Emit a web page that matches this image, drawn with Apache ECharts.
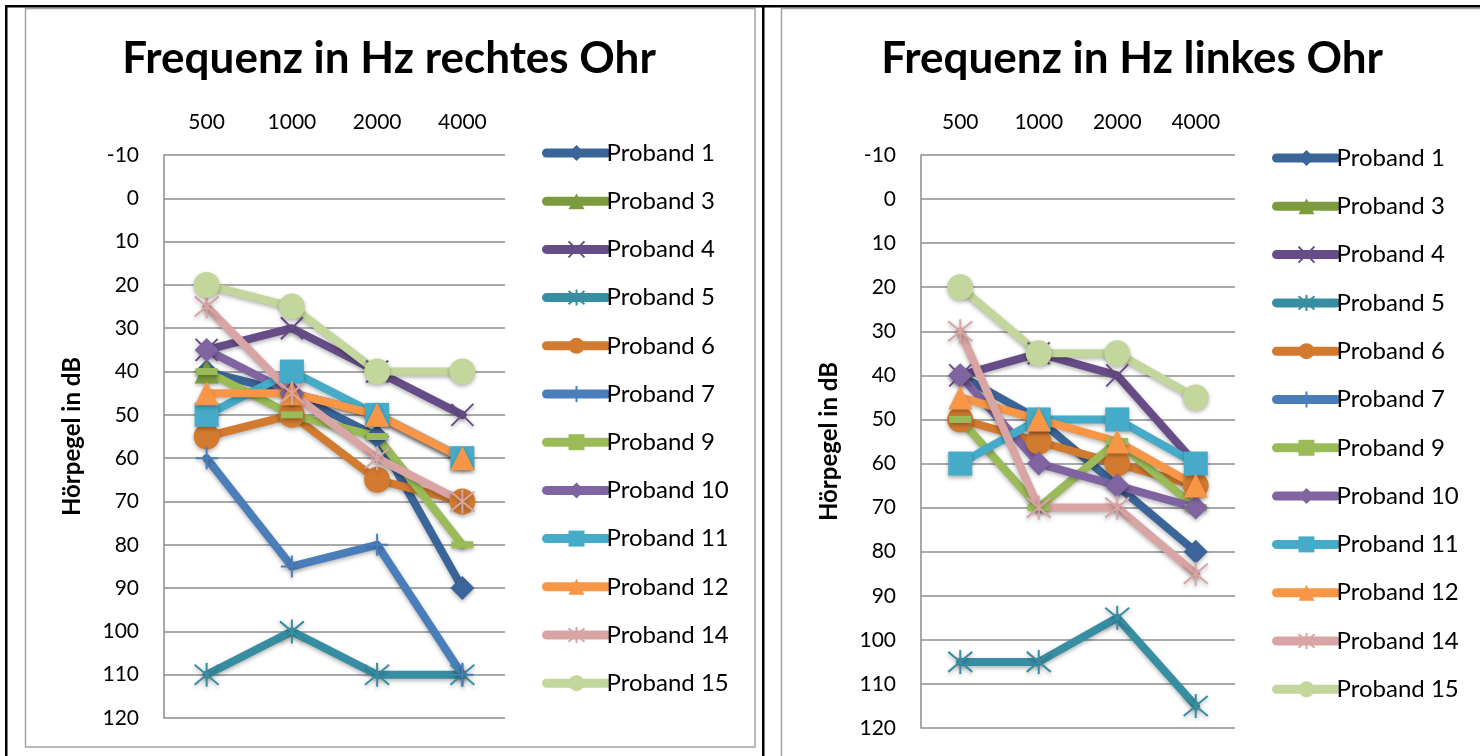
<!DOCTYPE html>
<html>
<head>
<meta charset="utf-8">
<script src="https://cdn.jsdelivr.net/npm/echarts@6/dist/echarts.min.js"></script>
<style>
  html, body { margin: 0; padding: 0; background: #fff; }
  #myChart { width: 1480px; height: 756px; }
</style>
</head>
<body>
<div id="myChart"></div>
<script>
// Frequenzen (x-Achse)
const frequencies = ["500", "1000", "2000", "4000"];
const probandNames = ["Proband 1", "Proband 3", "Proband 4", "Proband 5", "Proband 6", "Proband 7",
  "Proband 9", "Proband 10", "Proband 11", "Proband 12", "Proband 14", "Proband 15"];

// Hörpegel in dB, rechtes Ohr
const rightP1 = [40, 45, 55, 90];
const rightP3 = [40, null, null, null];
const rightP4 = [35, 30, 40, 50];
const rightP5 = [110, 100, 110, 110];
const rightP6 = [55, 50, 65, 70];
const rightP7 = [60, 85, 80, 110];
const rightP9 = [40, 50, 55, 80];
const rightP10 = [35, 45, 50, 60];
const rightP11 = [50, 40, 50, 60];
const rightP12 = [45, 45, 50, 60];
const rightP14 = [25, 45, 60, 70];
const rightP15 = [20, 25, 40, 40];

// Hörpegel in dB, linkes Ohr
const leftP1 = [40, 50, 65, 80];
const leftP3 = [null, null, null, null];
const leftP4 = [40, 35, 40, 60];
const leftP5 = [105, 105, 95, 115];
const leftP6 = [50, 55, 60, 65];
const leftP7 = [null, null, null, null];
const leftP9 = [50, 70, 55, 70];
const leftP10 = [40, 60, 65, 70];
const leftP11 = [60, 50, 50, 60];
const leftP12 = [45, 50, 55, 65];
const leftP14 = [30, 70, 70, 85];
const leftP15 = [20, 35, 35, 45];

const rightData = [rightP1, rightP3, rightP4, rightP5, rightP6, rightP7,
  rightP9, rightP10, rightP11, rightP12, rightP14, rightP15];
const leftData = [leftP1, leftP3, leftP4, leftP5, leftP6, leftP7,
  leftP9, leftP10, leftP11, leftP12, leftP14, leftP15];

const yTicks = { min: -10, max: 120, step: 10 };

const FONT = "Lato, 'Open Sans', 'DejaVu Sans', sans-serif";

// Symbole wie in Excel
const X_PATH = "path://M0,0L10,10M10,0L0,10";
const STAR_PATH = "path://M0,0L10,10M10,0L0,10M5,-1L5,11";
const PLUS_PATH = "path://M5,0L5,10M0,5L10,5";
const DASH_PATH = "path://M0,0L10,0L10,3L0,3Z";

const styles = [
  { color: "#3b6498", symbol: "diamond", size: 24 },
  { color: "#7b9b3e", symbol: "triangle", size: 24 },
  { color: "#674d87", symbol: X_PATH, size: 22, stroke: true },
  { color: "#378ea2", symbol: STAR_PATH, size: 24, stroke: true },
  { color: "#d27a30", symbol: "circle", size: 26 },
  { color: "#4a7ebb", symbol: PLUS_PATH, size: 22, stroke: true },
  { color: "#9bbb59", symbol: DASH_PATH, size: [22, 7] },
  { color: "#8064a2", symbol: "diamond", size: 24 },
  { color: "#45abc8", symbol: "rect", size: 24 },
  { color: "#f79646", symbol: "triangle", size: 24 },
  { color: "#d9a5a4", symbol: STAR_PATH, size: 24, stroke: true },
  { color: "#c3d69b", symbol: "circle", size: 26 }
];

function buildSeries (dataList, gridIndex) {
  return dataList.map((values, i) => {
    const st = styles[i];
    return {
      name: probandNames[i],
      type: "line",
      xAxisIndex: gridIndex,
      yAxisIndex: gridIndex,
      data: values,
      symbol: st.symbol,
      symbolSize: st.size,
      showAllSymbol: true,
      connectNulls: false,
      lineStyle: {
        color: st.color,
        width: 8,
        cap: "round",
        join: "round",
        shadowColor: "rgba(0,0,0,0.3)",
        shadowBlur: 4,
        shadowOffsetY: 2
      },
      itemStyle: {
        color: st.stroke ? "rgba(0,0,0,0)" : st.color,
        borderColor: st.color,
        borderWidth: st.stroke ? 2 : 0,
        shadowColor: "rgba(0,0,0,0.3)",
        shadowBlur: 4,
        shadowOffsetY: 2
      },
      emphasis: { disabled: true }
    };
  });
}

function xAxisFor (gridIndex) {
  return {
    type: "category",
    gridIndex: gridIndex,
    position: "top",
    data: frequencies,
    axisLine: { show: false },
    axisTick: { show: false },
    axisLabel: { color: "#000", fontSize: 21, fontFamily: FONT, margin: 22 }
  };
}

function yAxisFor (gridIndex) {
  return {
    type: "value",
    gridIndex: gridIndex,
    inverse: true,
    min: yTicks.min,
    max: yTicks.max,
    interval: yTicks.step,
    name: "Hörpegel in dB",
    nameLocation: "middle",
    nameRotate: 90,
    nameGap: 80,
    nameTextStyle: { color: "#000", fontSize: 24, fontWeight: "bold", fontFamily: FONT },
    axisLine: { show: true, lineStyle: { color: "#8c8c8c", width: 1.5 } },
    axisTick: { show: false },
    axisLabel: { color: "#000", fontSize: 21, fontFamily: FONT, margin: 25 },
    splitLine: { show: true, lineStyle: { color: "#8c8c8c", width: 1.5 } }
  };
}

function legendFor (left, top, gap) {
  return {
    orient: "vertical",
    left: left,
    top: top,
    itemWidth: 60,
    itemHeight: 20,
    itemGap: gap,
    selectedMode: false,
    data: probandNames,
    lineStyle: { width: 9, cap: "round" },
    textStyle: { color: "#000", fontSize: 24, fontFamily: FONT, lineHeight: 20, padding: [0, 0, 0, -5] }
  };
}

let myChart = echarts.init(document.getElementById("myChart"));
let option = {
  animation: false,
  backgroundColor: "#fff",
  title: [
    {
      text: "Frequenz in Hz rechtes Ohr",
      left: 384,
      top: 32,
      textAlign: "center",
      textStyle: { color: "#000", fontSize: 44, fontWeight: "bold", fontFamily: FONT }
    },
    {
      text: "Frequenz in Hz linkes Ohr",
      left: 1127,
      top: 32,
      textAlign: "center",
      textStyle: { color: "#000", fontSize: 44, fontWeight: "bold", fontFamily: FONT }
    }
  ],
  legend: [legendFor(537, 136, 24.2), legendFor(1267, 141, 24.3)],
  grid: [
    { left: 164, top: 155, width: 341, height: 563 },
    { left: 921, top: 155, width: 314, height: 573 }
  ],
  xAxis: [xAxisFor(0), xAxisFor(1)],
  yAxis: [yAxisFor(0), yAxisFor(1)],
  series: buildSeries(rightData, 0).concat(buildSeries(leftData, 1)),
  // Tabellenrahmen und Diagrammrahmen
  graphic: [
    { type: "rect", shape: { x: 25.5, y: 8.5, width: 729.5, height: 738.5 },
      style: { fill: null, stroke: "#a3a3a3", lineWidth: 1.5 }, silent: true },
    { type: "rect", shape: { x: 781.5, y: 8.5, width: 720, height: 760 },
      style: { fill: null, stroke: "#a3a3a3", lineWidth: 1.5 }, silent: true },
    { type: "rect", shape: { x: 5, y: 5, width: 1475, height: 2.5 },
      style: { fill: "#000" }, silent: true },
    { type: "rect", shape: { x: 5, y: 5, width: 2.5, height: 751 },
      style: { fill: "#000" }, silent: true },
    { type: "rect", shape: { x: 762, y: 5, width: 2.5, height: 751 },
      style: { fill: "#000" }, silent: true }
  ]
};
myChart.setOption(option);
</script>
</body>
</html>
